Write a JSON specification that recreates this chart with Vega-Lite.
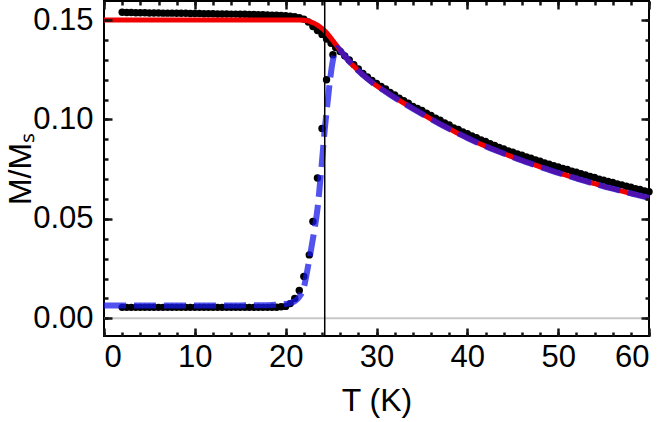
{
  "$schema": "https://vega.github.io/schema/vega-lite/v6.json",
  "width": 545,
  "height": 335,
  "autosize": "none",
  "padding": {"left": 104, "top": 1, "right": 17, "bottom": 86},
  "background": "white",
  "config": {"view": {"stroke": "black", "strokeWidth": 2}, "font": "Liberation Sans",
    "axis": {"domain": false, "grid": false, "ticks": true, "labelColor": "black", "titleColor": "black", "labelFont": "Liberation Sans", "titleFont": "Liberation Sans", "titleFontWeight": "normal"}},
  "datasets": {
    "fc": [
      {"T":2,"M":0.1539},{"T":2.5,"M":0.1538},{"T":3,"M":0.1538},{"T":3.5,"M":0.1537},{"T":4,"M":0.1537},{"T":4.5,"M":0.1537},{"T":5,"M":0.1536},{"T":5.5,"M":0.1536},{"T":6,"M":0.1536},{"T":6.5,"M":0.1535},{"T":7,"M":0.1535},{"T":7.5,"M":0.1535},{"T":8,"M":0.1534},{"T":8.5,"M":0.1534},{"T":9,"M":0.1534},{"T":9.5,"M":0.1533},{"T":10,"M":0.1533},{"T":10.5,"M":0.1533},{"T":11,"M":0.1532},{"T":11.5,"M":0.1532},{"T":12,"M":0.1532},{"T":12.5,"M":0.1531},{"T":13,"M":0.1531},{"T":13.5,"M":0.1531},{"T":14,"M":0.153},{"T":14.5,"M":0.153},{"T":15,"M":0.1529},{"T":15.5,"M":0.1529},{"T":16,"M":0.1528},{"T":16.5,"M":0.1528},{"T":17,"M":0.1527},{"T":17.5,"M":0.1527},{"T":18,"M":0.1526},{"T":18.5,"M":0.1525},{"T":19,"M":0.1524},{"T":19.5,"M":0.1523},{"T":20,"M":0.1522},{"T":20.5,"M":0.152},{"T":21,"M":0.1517},{"T":21.5,"M":0.1512},{"T":22,"M":0.1505},{"T":22.5,"M":0.149},{"T":23,"M":0.1468},{"T":23.5,"M":0.1448},{"T":24,"M":0.1428},{"T":24.5,"M":0.1405},{"T":25,"M":0.1383},{"T":25.5,"M":0.1362},{"T":26,"M":0.1342},{"T":26.5,"M":0.132},
      {"T":27,"M":0.1299},{"T":27.5,"M":0.1276},{"T":28,"M":0.1254},{"T":28.5,"M":0.1232},{"T":29,"M":0.1214},{"T":29.5,"M":0.1196},{"T":30,"M":0.1181},{"T":30.5,"M":0.1166},{"T":31,"M":0.1153},{"T":31.5,"M":0.1136},{"T":32,"M":0.1123},{"T":32.5,"M":0.1107},{"T":33,"M":0.1095},{"T":33.5,"M":0.1082},{"T":34,"M":0.1066},{"T":34.5,"M":0.1056},{"T":35,"M":0.1045},{"T":35.5,"M":0.1031},{"T":36,"M":0.102},{"T":36.5,"M":0.1006},{"T":37,"M":0.0996},{"T":37.5,"M":0.0982},{"T":38,"M":0.0972},{"T":38.5,"M":0.0958},{"T":39,"M":0.095},{"T":39.5,"M":0.0937},{"T":40,"M":0.0928},{"T":40.5,"M":0.0917},{"T":41,"M":0.0909},{"T":41.5,"M":0.0897},{"T":42,"M":0.0889},{"T":42.5,"M":0.0878},{"T":43,"M":0.087},{"T":43.5,"M":0.0859},{"T":44,"M":0.0852},{"T":44.5,"M":0.0842},{"T":45,"M":0.0836},{"T":45.5,"M":0.0827},{"T":46,"M":0.082},{"T":46.5,"M":0.0811},{"T":47,"M":0.0805},{"T":47.5,"M":0.0796},{"T":48,"M":0.079},{"T":48.5,"M":0.0781},{"T":49,"M":0.0775},{"T":49.5,"M":0.0767},{"T":50,"M":0.0761},{"T":50.5,"M":0.0754},{"T":51,"M":0.0749},{"T":51.5,"M":0.074},{"T":52,"M":0.0735},{"T":52.5,"M":0.0727},{"T":53,"M":0.0721},{"T":53.5,"M":0.0713},{"T":54,"M":0.0708},{"T":54.5,"M":0.07},{"T":55,"M":0.0695},{"T":55.5,"M":0.0688},{"T":56,"M":0.0683},{"T":56.5,"M":0.0676},{"T":57,"M":0.0671},{"T":57.5,"M":0.0664},{"T":58,"M":0.0659},{"T":58.5,"M":0.0652},{"T":59,"M":0.0648},{"T":59.5,"M":0.0641},{"T":60,"M":0.0637}
    ],
    "zfc": [
      {"T":2,"M":0.0055},{"T":2.5,"M":0.0055},{"T":3,"M":0.0055},{"T":3.5,"M":0.0055},{"T":4,"M":0.0055},{"T":4.5,"M":0.0055},{"T":5,"M":0.0055},{"T":5.5,"M":0.0055},{"T":6,"M":0.0055},{"T":6.5,"M":0.0055},{"T":7,"M":0.0055},{"T":7.5,"M":0.0055},{"T":8,"M":0.0055},{"T":8.5,"M":0.0055},{"T":9,"M":0.0055},{"T":9.5,"M":0.0055},{"T":10,"M":0.0055},{"T":10.5,"M":0.0055},{"T":11,"M":0.0055},{"T":11.5,"M":0.0055},{"T":12,"M":0.0055},{"T":12.5,"M":0.0055},{"T":13,"M":0.0055},{"T":13.5,"M":0.0055},{"T":14,"M":0.0055},{"T":14.5,"M":0.0055},{"T":15,"M":0.0055},{"T":15.5,"M":0.0055},{"T":16,"M":0.0055},{"T":16.5,"M":0.0055},{"T":17,"M":0.0055},{"T":17.5,"M":0.0055},{"T":18,"M":0.0055},{"T":18.5,"M":0.0056},{"T":19,"M":0.0056},{"T":19.5,"M":0.0058},{"T":20,"M":0.006},{"T":20.5,"M":0.0074},{"T":21,"M":0.01},{"T":21.5,"M":0.014},{"T":22,"M":0.021},{"T":22.6,"M":0.0319},{"T":23,"M":0.0487},{"T":23.5,"M":0.0706},{"T":24,"M":0.0955},{"T":24.5,"M":0.12},{"T":25.2,"M":0.1326}
    ],
    "red": [
      {"T":0,"M":0.15},{"T":21,"M":0.15},{"T":21.5,"M":0.15},{"T":22,"M":0.1499},{"T":22.5,"M":0.1495},{"T":23,"M":0.1487},{"T":23.5,"M":0.1475},{"T":24,"M":0.1458},{"T":24.5,"M":0.1436},{"T":25,"M":0.1408},{"T":25.5,"M":0.1378},{"T":26,"M":0.1348},{"T":27,"M":0.1292},{"T":28,"M":0.1245},{"T":29,"M":0.1205},{"T":30,"M":0.117},{"T":31,"M":0.114},{"T":32,"M":0.111},{"T":33,"M":0.1082},{"T":34,"M":0.1055},{"T":35,"M":0.1028},{"T":36,"M":0.1002},{"T":37,"M":0.0977},{"T":38,"M":0.0953},{"T":39,"M":0.093},{"T":40,"M":0.0907},{"T":41,"M":0.0886},{"T":42,"M":0.0866},{"T":43,"M":0.0847},{"T":44,"M":0.0829},{"T":45,"M":0.0811},{"T":46,"M":0.0794},{"T":47,"M":0.0778},{"T":48,"M":0.0762},{"T":49,"M":0.0747},{"T":50,"M":0.0732},{"T":51,"M":0.0718},{"T":52,"M":0.0704},{"T":53,"M":0.069},{"T":54,"M":0.0677},{"T":55,"M":0.0664},{"T":56,"M":0.0652},{"T":57,"M":0.064},{"T":58,"M":0.0628},{"T":59,"M":0.0617},{"T":60,"M":0.0606}
    ],
    "blue": [
      {"T":0,"M":0.0065},{"T":5,"M":0.0065},{"T":10,"M":0.0065},{"T":15,"M":0.0065},{"T":18,"M":0.0066},{"T":19,"M":0.0068},{"T":20,"M":0.0072},{"T":20.5,"M":0.0077},{"T":21,"M":0.0086},{"T":21.5,"M":0.0108},{"T":22,"M":0.0155},{"T":22.5,"M":0.027},{"T":23,"M":0.04},{"T":23.5,"M":0.055},{"T":24,"M":0.079},{"T":24.3,"M":0.095},{"T":24.6,"M":0.108},{"T":25,"M":0.124},{"T":25.3,"M":0.132},{"T":25.7,"M":0.136},{"T":26,"M":0.1348},{"T":27,"M":0.1292},{"T":28,"M":0.1245},{"T":29,"M":0.1205},{"T":30,"M":0.117},{"T":31,"M":0.114},{"T":32,"M":0.111},{"T":33,"M":0.1082},{"T":34,"M":0.1055},{"T":35,"M":0.1028},{"T":36,"M":0.1002},{"T":37,"M":0.0977},{"T":38,"M":0.0953},{"T":39,"M":0.093},{"T":40,"M":0.0907},{"T":41,"M":0.0886},{"T":42,"M":0.0866},{"T":43,"M":0.0847},{"T":44,"M":0.0829},{"T":45,"M":0.0811},{"T":46,"M":0.0794},{"T":47,"M":0.0778},{"T":48,"M":0.0762},{"T":49,"M":0.0747},{"T":50,"M":0.0732},{"T":51,"M":0.0718},{"T":52,"M":0.0704},{"T":53,"M":0.069},{"T":54,"M":0.0677},{"T":55,"M":0.0664},{"T":56,"M":0.0652},{"T":57,"M":0.064},{"T":58,"M":0.0628},{"T":59,"M":0.0617},{"T":60,"M":0.0606}
    ]
  },
  "layer": [
    {
      "data": {"values": [{"M": 0}]},
      "mark": {"type": "rule", "color": "#c8c8c8", "strokeWidth": 2},
      "encoding": {
        "y": {"field": "M", "type": "quantitative",
          "scale": {"domain": [-0.0089, 0.1596], "nice": false, "zero": false},
          "axis": {"orient": "left", "values": [0, 0.05, 0.1, 0.15], "format": ".2f",
            "ticks": false, "tickSize": 0,
            "labelFontSize": 31, "labelPadding": 11,
            "title": "M/Mₛ", "titleFontSize": 32, "titlePadding": 2, "titleBaseline": "alphabetic"}}
      }
    },
    {
      "data": {"name": "zfc"},
      "mark": {"type": "circle", "size": 55, "color": "black", "opacity": 1},
      "encoding": {
        "x": {"field": "T", "type": "quantitative",
          "scale": {"domain": [0, 60], "nice": false, "zero": false},
          "axis": {"orient": "bottom", "values": [0, 10, 20, 30, 40, 50, 60],
            "ticks": false, "tickSize": 0,
            "labelFontSize": 31, "labelPadding": 6,
            "title": "T (K)", "titleFontSize": 32, "titlePadding": 13}},
        "y": {"field": "M", "type": "quantitative",
          "axis": {"orient": "left", "values": [0, 0.05, 0.1, 0.15], "labels": false, "title": null, "tickSize": -8, "tickColor": "#141414", "tickWidth": 2.5, "zindex": 3}}
      }
    },
    {
      "data": {"name": "fc"},
      "mark": {"type": "circle", "size": 55, "color": "black", "opacity": 1},
      "encoding": {
        "x": {"field": "T", "type": "quantitative",
          "axis": {"orient": "bottom", "values": [0, 10, 20, 30, 40, 50, 60], "labels": false, "title": null, "tickSize": -8, "tickColor": "#141414", "tickWidth": 2.5, "zindex": 3}},
        "y": {"field": "M", "type": "quantitative",
          "axis": {"orient": "left", "values": [0,0.01,0.02,0.03,0.04,0.05,0.06,0.07,0.08,0.09,0.1,0.11,0.12,0.13,0.14,0.15], "labels": false, "title": null, "tickSize": -4, "tickColor": "#141414", "tickWidth": 2.5, "zindex": 3}}
      }
    },
    {
      "data": {"name": "red"},
      "mark": {"type": "line", "color": "#f00000", "strokeWidth": 5, "interpolate": "monotone"},
      "encoding": {
        "x": {"field": "T", "type": "quantitative",
          "axis": {"orient": "bottom", "values": [0,2,4,6,8,10,12,14,16,18,20,22,24,26,28,30,32,34,36,38,40,42,44,46,48,50,52,54,56,58,60], "labels": false, "title": null, "tickSize": -4, "tickColor": "#141414", "tickWidth": 2.5, "zindex": 3}},
        "y": {"field": "M", "type": "quantitative",
          "axis": {"orient": "right", "values": [0, 0.05, 0.1, 0.15], "labels": false, "title": null, "tickSize": -8, "tickColor": "#141414", "tickWidth": 2.5, "zindex": 3}}
      }
    },
    {
      "data": {"name": "blue"},
      "mark": {"type": "line", "color": "#1818e8", "strokeWidth": 6, "opacity": 0.75, "strokeDash": [22, 8], "interpolate": "monotone"},
      "encoding": {
        "x": {"field": "T", "type": "quantitative",
          "axis": {"orient": "top", "values": [0, 10, 20, 30, 40, 50, 60], "labels": false, "title": null, "tickSize": -8, "tickColor": "#141414", "tickWidth": 2.5, "zindex": 3}},
        "y": {"field": "M", "type": "quantitative",
          "axis": {"orient": "right", "values": [0,0.01,0.02,0.03,0.04,0.05,0.06,0.07,0.08,0.09,0.1,0.11,0.12,0.13,0.14,0.15], "labels": false, "title": null, "tickSize": -4, "tickColor": "#141414", "tickWidth": 2.5, "zindex": 3}}
      }
    },
    {
      "data": {"values": [{"T": 24.3}]},
      "mark": {"type": "rule", "color": "black", "strokeWidth": 1.5},
      "encoding": {
        "x": {"field": "T", "type": "quantitative",
          "axis": {"orient": "top", "values": [0,2,4,6,8,10,12,14,16,18,20,22,24,26,28,30,32,34,36,38,40,42,44,46,48,50,52,54,56,58,60], "labels": false, "title": null, "tickSize": -4, "tickColor": "#141414", "tickWidth": 2.5, "zindex": 3}}
      }
    }
  ],
  "resolve": {"axis": {"x": "independent", "y": "independent"}}
}
